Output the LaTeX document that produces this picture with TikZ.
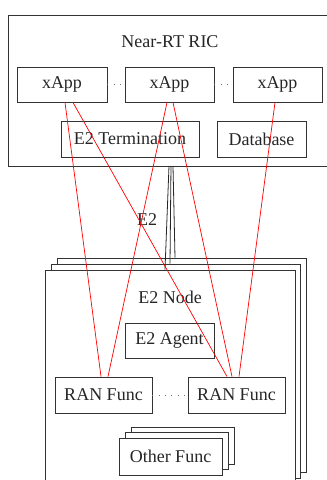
\documentclass[tikz,border=0pt]{standalone}
\usepackage{fontspec}
\setmainfont{Liberation Serif}
\usetikzlibrary{calc}
\begin{document}
\begin{tikzpicture}[x=1pt,y=1pt,
  box/.style={draw=black!80, line width=0.9pt, fill=white, rectangle, inner sep=0pt,
    font=\fontsize{18}{21}\selectfont, text=black!85},
  lbl/.style={font=\fontsize{18}{21}\selectfont, text=black!85, inner sep=0pt},
  redline/.style={draw=red, line width=0.7pt},
  dotline/.style={draw=black!55, line width=0.8pt, dash pattern=on 0.8pt off 5.5pt},
  e2line/.style={draw=black!85, line width=0.8pt}]
\clip (0,0) rectangle (327,-480);
% Near-RT RIC
\node[box, minimum width=340, minimum height=151] (ric) at (178,-90.5) {};
\node[lbl] (rictitle) at (170,-42) {Near-RT RIC};
\node[box, minimum width=90, minimum height=35] (x1) at (62,-84.5) {xApp};
\node[box, minimum width=89, minimum height=35] (x2) at (169.5,-84.5) {xApp};
\node[box, minimum width=89, minimum height=35] (x3) at (277.5,-84.5) {xApp};
\draw[dotline] (x1.east) -- (x2.west);
\draw[dotline] (x2.east) -- (x3.west);
\node[box, minimum width=138, minimum height=36] (term) at (130,-139) {E2 Termination};
\node[box, minimum width=89, minimum height=36] (db) at (261.5,-139) {Database};
% E2 Node stack
\node[box, minimum width=249, minimum height=214] (nodeC) at (181.5,-365) {};
\node[box, minimum width=249, minimum height=214] (nodeB) at (175.5,-371) {};
\node[box, minimum width=250, minimum height=214] (nodeA) at (170,-377) {};
\node[lbl] (nodetitle) at (170,-297) {E2 Node};
\node[box, minimum width=89, minimum height=35] (agent) at (169.5,-340.5) {E2 Agent};
\node[box, minimum width=97, minimum height=36] (ran1) at (103.5,-395) {RAN Func};
\node[box, minimum width=97, minimum height=36] (ran2) at (236.5,-395) {RAN Func};
\draw[dotline] (ran1.east) -- (ran2.west);
% Other Func stack
\node[box, minimum width=103, minimum height=37] (ofC) at (182.5,-445.5) {};
\node[box, minimum width=103, minimum height=37] (ofB) at (176.5,-451) {};
\node[box, minimum width=103, minimum height=37] (ofA) at (170.5,-456.5) {Other Func};
% E2 interface
\coordinate (ricbot) at (170,-166);
\draw[e2line] ([xshift=-1pt]ricbot) -- ([xshift=-5pt]nodeA.north);
\draw[e2line] ([xshift=1pt]ricbot) -- ([xshift=-5.5pt]nodeB.north);
\draw[e2line] ([xshift=3pt]ricbot) -- ([xshift=-6.5pt]nodeC.north);
\node[lbl] (e2lbl) at (147,-220) {E2};
% red links
\draw[redline] ([xshift=3pt]x1.south) -- ([xshift=-2.5pt]ran1.north);
\draw[redline] ([xshift=11pt]x1.south) -- ([xshift=-9.5pt]ran2.north);
\draw[redline] ([xshift=-2.5pt]x2.south) -- ([xshift=4.5pt]ran1.north);
\draw[redline] ([xshift=3.5pt]x2.south) -- ([xshift=-4.5pt]ran2.north);
\draw[redline] ([xshift=-2.5pt]x3.south) -- ([xshift=2.5pt]ran2.north);
\end{tikzpicture}
\end{document}
